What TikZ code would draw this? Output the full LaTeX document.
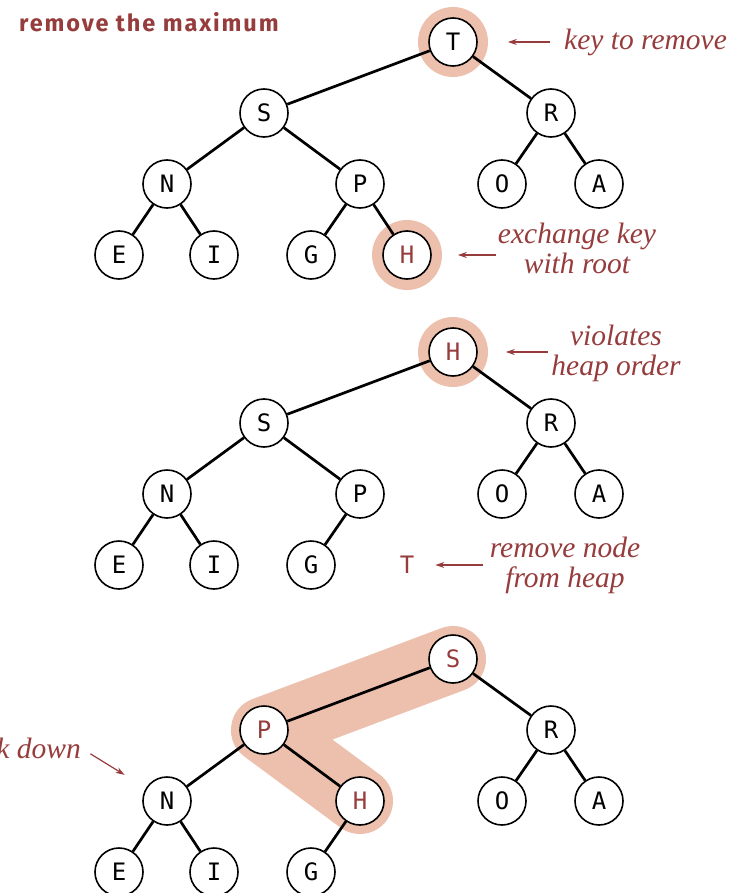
\documentclass[tikz,border=0pt]{standalone}
\usepackage{fontspec}
\usepackage{tikz}
\usetikzlibrary{positioning,arrows.meta,backgrounds}
\setmainfont{Liberation Serif}
\newfontfamily\keyfont{DejaVu Sans Mono}
\newfontfamily\headfont[LetterSpace=8]{Fira Sans}
\definecolor{heapred}{RGB}{150,60,60}
\definecolor{halo}{RGB}{236,192,172}

\begin{document}
\begin{tikzpicture}[x=1pt, y=-1pt, on grid, node distance={71pt},
  main/.style = {draw, circle, fill=white, line width=1.6pt, minimum size=48pt, inner sep=0pt, font=\keyfont\fontsize{24}{24}\selectfont},
  hot/.style = {text=heapred},
  edge/.style = {line width=2.7pt},
  note/.style = {text=heapred, font=\itshape\fontsize{29.5}{30}\selectfont, align=center, inner sep=0pt},
  pointer/.style = {draw=heapred, line width=1.2pt, -{Stealth[length=9pt,width=6pt]}},
  glow/.style = {fill=halo},
  band/.style = {draw=halo, line width=66pt, line cap=round, line join=round}]
\useasboundingbox (0,0) rectangle (740,893);

\node[anchor=base west, inner sep=0pt, text=heapred, font=\headfont\bfseries\fontsize{23.5}{24}\selectfont] (title) at (19,32) {remove the maximum};

% first heap
\node[main] (t1) at (453,42) {T};
\node[main] (s1) [below left=71pt and 189pt of t1] {S};
\node[main] (r1) [below right=71pt and 98pt of t1] {R};
\node[main] (n1) [below left=71pt and 97pt of s1] {N};
\node[main] (p1) [below right=71pt and 96pt of s1] {P};
\node[main] (o1) [below left=71pt and 49pt of r1] {O};
\node[main] (a1) [below right=71pt and 48pt of r1] {A};
\node[main] (e1) [below left=71pt and 48pt of n1] {E};
\node[main] (i1) [below right=71pt and 47pt of n1] {I};
\node[main] (g1) [below left=71pt and 49pt of p1] {G};
\node[main, hot] (h1) [below right=71pt and 47pt of p1] {H};
\draw[edge] (t1) -- (s1);
\draw[edge] (t1) -- (r1);
\draw[edge] (s1) -- (n1);
\draw[edge] (s1) -- (p1);
\draw[edge] (r1) -- (o1);
\draw[edge] (r1) -- (a1);
\draw[edge] (n1) -- (e1);
\draw[edge] (n1) -- (i1);
\draw[edge] (p1) -- (g1);
\draw[edge] (p1) -- (h1);
\begin{scope}[on background layer]
\fill[glow] (t1) circle (35pt);
\fill[glow] (h1) circle (35pt);
\end{scope}
\node[note, anchor=west] (keylbl) at (564,42) {key to remove};
\node[note] (exlbl) at (577,248) {exchange key\\with root};
\draw[pointer, shorten <=14pt, shorten >=30pt] (keylbl.west) -- (t1);
\draw[pointer, shorten <=2pt, shorten >=26pt] (exlbl.west |- h1) -- (h1);

% second heap
\node[main, hot] (h2) at (453,352) {H};
\node[main] (s2) [below left=71pt and 189pt of h2] {S};
\node[main] (r2) [below right=71pt and 98pt of h2] {R};
\node[main] (n2) [below left=71pt and 97pt of s2] {N};
\node[main] (p2) [below right=71pt and 96pt of s2] {P};
\node[main] (o2) [below left=71pt and 49pt of r2] {O};
\node[main] (a2) [below right=71pt and 48pt of r2] {A};
\node[main] (e2) [below left=71pt and 48pt of n2] {E};
\node[main] (i2) [below right=71pt and 47pt of n2] {I};
\node[main] (g2) [below left=71pt and 49pt of p2] {G};
\node[hot, inner sep=0pt, font=\keyfont\fontsize{24}{24}\selectfont] (tout) [below right=71pt and 47pt of p2] {T};
\draw[edge] (h2) -- (s2);
\draw[edge] (h2) -- (r2);
\draw[edge] (s2) -- (n2);
\draw[edge] (s2) -- (p2);
\draw[edge] (r2) -- (o2);
\draw[edge] (r2) -- (a2);
\draw[edge] (n2) -- (e2);
\draw[edge] (n2) -- (i2);
\draw[edge] (p2) -- (g2);
\begin{scope}[on background layer]
\fill[glow] (h2) circle (35pt);
\end{scope}
\node[note] (vlbl) at (616,353) {violates\\heap order};
\node[note] (rmlbl) at (565,565) {remove node\\from heap};
\draw[pointer, shorten <=3pt, shorten >=28pt] (vlbl.west |- h2) -- (h2);
\draw[pointer, shorten <=7pt, shorten >=21pt] (rmlbl.west |- tout) -- (tout);

% third heap
\node[main, hot] (s3) at (453,659) {S};
\node[main, hot] (p3) [below left=71pt and 189pt of s3] {P};
\node[main] (r3) [below right=71pt and 98pt of s3] {R};
\node[main] (n3) [below left=71pt and 97pt of p3] {N};
\node[main, hot] (h3) [below right=71pt and 96pt of p3] {H};
\node[main] (o3) [below left=71pt and 49pt of r3] {O};
\node[main] (a3) [below right=71pt and 48pt of r3] {A};
\node[main] (e3) [below left=71pt and 48pt of n3] {E};
\node[main] (i3) [below right=71pt and 47pt of n3] {I};
\node[main] (g3) [below left=71pt and 49pt of h3] {G};
\draw[edge] (s3) -- (p3);
\draw[edge] (s3) -- (r3);
\draw[edge] (p3) -- (n3);
\draw[edge] (p3) -- (h3);
\draw[edge] (r3) -- (o3);
\draw[edge] (r3) -- (a3);
\draw[edge] (n3) -- (e3);
\draw[edge] (n3) -- (i3);
\draw[edge] (h3) -- (g3);
\begin{scope}[on background layer]
\draw[band] (s3.center) -- (p3.center) -- (h3.center);
\end{scope}
\node[note, anchor=east] (sinklbl) at (81,748) {sink down};
\draw[pointer, shorten <=11pt, shorten >=25pt] (sinklbl.east) -- (n3);
\end{tikzpicture}
\end{document}
